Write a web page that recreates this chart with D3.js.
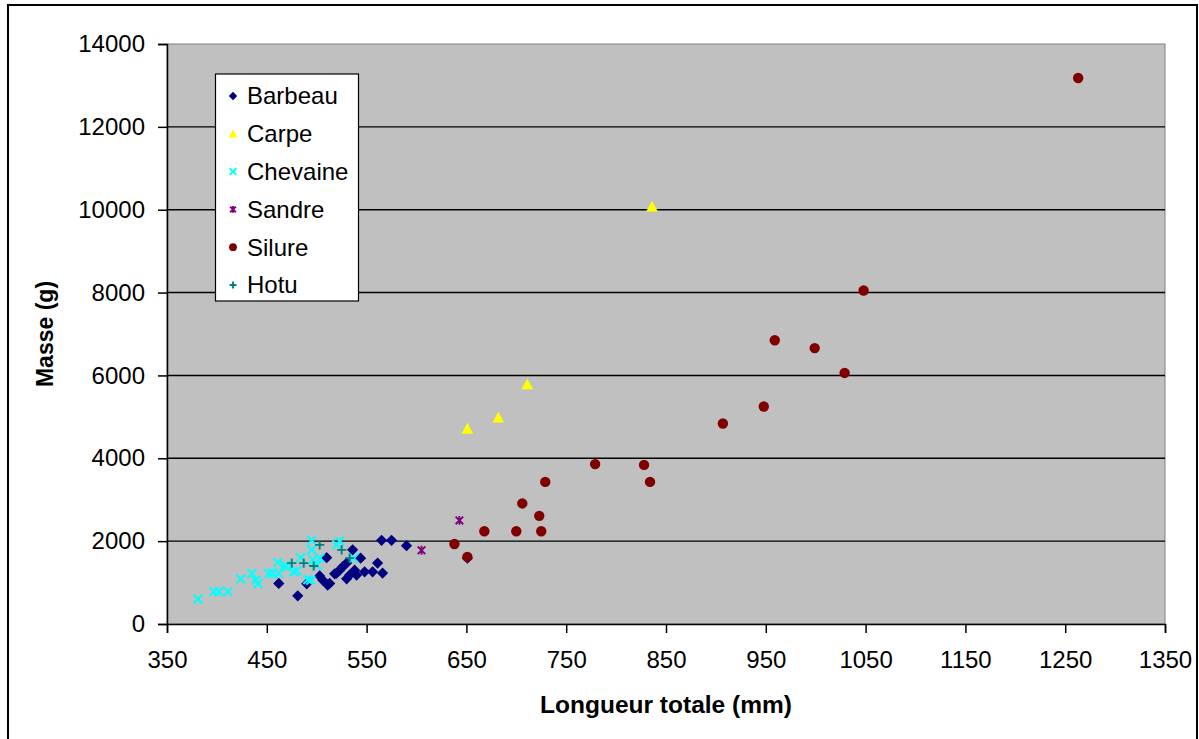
<!DOCTYPE html>
<html>
<head>
<meta charset="utf-8">
<script src="https://cdn.jsdelivr.net/npm/d3@7"></script>
<style>
  body { margin: 0; background: #fff; }
  svg { display: block; font-family: "Liberation Sans", Arial, sans-serif; }
</style>
</head>
<body>
<svg id="chart" width="1199" height="739"></svg>
<script>
// longueur totale (mm) / masse (g) par espèce
const barbeauX = [462, 481, 490, 503, 506, 510, 513, 520, 523, 526, 530, 518, 530, 533, 536, 538, 540, 544, 548, 556, 561, 566, 565, 575, 590, 651, 511];
const barbeauY = [980, 680, 970, 1160, 1060, 1600, 980, 1230, 1300, 1380, 1090, 1210, 1470, 1180, 1790, 1300, 1180, 1590, 1260, 1260, 1470, 1230, 2020, 2020, 1890, 1590, 940];

const carpeX = [651, 682, 711, 836];
const carpeY = [4710, 4980, 5780, 10070];

const chevaineX = [381, 397, 402, 411, 424, 435, 439, 441, 452, 456, 461, 462, 468, 470, 477, 480, 484, 491, 494, 495, 495, 496, 503, 500, 523, 520, 537];
const chevaineY = [600, 780, 780, 780, 1090, 1220, 1060, 970, 1220, 1220, 1480, 1220, 1410, 1380, 1260, 1290, 1600, 1070, 1060, 2020, 1790, 1550, 1590, 1420, 2000, 1910, 1590];

const sandreX = [605, 643];
const sandreY = [1780, 2500];

const silureX = [1263, 1048, 959, 999, 1029, 948, 907, 779, 828, 834, 729, 706, 723, 668, 700, 725, 638, 651];
const silureY = [13180, 8050, 6850, 6660, 6060, 5250, 4840, 3860, 3840, 3430, 3430, 2910, 2610, 2240, 2240, 2240, 1930, 1620];

const hotuX = [475, 487, 497, 503, 525, 533];
const hotuY = [1470, 1470, 1400, 1910, 1790, 1590];

const seriesNames = ["Barbeau", "Carpe", "Chevaine", "Sandre", "Silure", "Hotu"];
const xTicks = [350, 450, 550, 650, 750, 850, 950, 1050, 1150, 1250, 1350];
const yTicks = [0, 2000, 4000, 6000, 8000, 10000, 12000, 14000];

const svg = d3.select("#chart");

// cadre du graphique
svg.append("rect")
    .attr("x", 8).attr("y", 5)
    .attr("width", 1189).attr("height", 760)
    .attr("fill", "#fff")
    .attr("stroke", "#000")
    .attr("stroke-width", 2);

const x = d3.scaleLinear().domain([350, 1350]).range([167, 1165]);
const y = d3.scaleLinear().domain([0, 14000]).range([624, 44]);

// zone de traçage
svg.append("rect")
    .attr("x", x(350)).attr("y", y(14000))
    .attr("width", x(1350) - x(350)).attr("height", y(0) - y(14000))
    .attr("fill", "#c0c0c0")
    .attr("stroke", "#808080")
    .attr("stroke-width", 1);

svg.append("g")
    .selectAll("line")
    .data(yTicks.filter(d => d > 0 && d < 14000))
    .enter()
    .append("line")
    .attr("x1", x(350)).attr("x2", x(1350))
    .attr("y1", d => y(d)).attr("y2", d => y(d))
    .attr("stroke", "#000")
    .attr("stroke-width", 1.4);

const xAxis = svg.append("g")
    .attr("transform", `translate(0,${y(0)})`)
    .call(d3.axisBottom(x).tickValues(xTicks).tickSize(9).tickPadding(18).tickFormat(d3.format("d")));

const yAxis = svg.append("g")
    .attr("transform", `translate(${x(350)},0)`)
    .call(d3.axisLeft(y).tickValues(yTicks).tickSize(9).tickPadding(13).tickFormat(d3.format("d")));

[xAxis, yAxis].forEach(g => {
    g.selectAll("path.domain").attr("stroke", "#000").attr("stroke-width", 1.5);
    g.selectAll(".tick line").attr("stroke", "#000").attr("stroke-width", 1.5);
    g.selectAll(".tick text")
        .attr("fill", "#000")
        .style("font-size", "24px")
        .style("font-family", "'Liberation Sans', Arial, sans-serif");
});

svg.append("text")
    .attr("x", (x(350) + x(1350)) / 2)
    .attr("y", 713)
    .attr("text-anchor", "middle")
    .style("font-size", "24.5px")
    .style("font-weight", "bold")
    .text("Longueur totale (mm)");

svg.append("text")
    .attr("transform", `translate(53,${(y(0) + y(14000)) / 2}) rotate(-90)`)
    .attr("text-anchor", "middle")
    .style("font-size", "23px")
    .style("font-weight", "bold")
    .text("Masse (g)");

// formes des marqueurs
function drawMarker(g, shape, color, s) {
    if (shape === "diamond") {
        g.append("path").attr("d", `M0,${-5.6 * s}L${5.6 * s},0L0,${5.6 * s}L${-5.6 * s},0Z`).attr("fill", color);
    } else if (shape === "triangle") {
        g.append("path").attr("d", `M0,${-6 * s}L${5.8 * s},${4.8 * s}L${-5.8 * s},${4.8 * s}Z`).attr("fill", color);
    } else if (shape === "circle") {
        g.append("circle").attr("r", 5.2 * s).attr("fill", color);
    } else if (shape === "x") {
        const r = 4.4 * s;
        g.append("path").attr("d", `M${-r},${-r}L${r},${r}M${-r},${r}L${r},${-r}`)
            .attr("stroke", color).attr("stroke-width", 2).attr("fill", "none");
    } else if (shape === "star") {
        const r = 3.8 * s;
        g.append("path").attr("d", `M${-r},${-r}L${r},${r}M${-r},${r}L${r},${-r}M0,${-r - 0.6}L0,${r + 0.6}`)
            .attr("stroke", color).attr("stroke-width", 1.9).attr("fill", "none");
    } else if (shape === "plus") {
        const r = 4.6 * s;
        g.append("path").attr("d", `M${-r},0L${r},0M0,${-r}L0,${r}`)
            .attr("stroke", color).attr("stroke-width", 1.9).attr("fill", "none");
    }
}

const series = [
    { name: seriesNames[0], xs: barbeauX, ys: barbeauY, color: "#000080", shape: "diamond" },
    { name: seriesNames[1], xs: carpeX, ys: carpeY, color: "#ffff00", shape: "triangle" },
    { name: seriesNames[2], xs: chevaineX, ys: chevaineY, color: "#00ffff", shape: "x" },
    { name: seriesNames[3], xs: sandreX, ys: sandreY, color: "#800080", shape: "star" },
    { name: seriesNames[4], xs: silureX, ys: silureY, color: "#800000", shape: "circle" },
    { name: seriesNames[5], xs: hotuX, ys: hotuY, color: "#008080", shape: "plus" }
];

series.forEach(s => {
    const pts = s.xs.map((v, i) => ({ x: v, y: s.ys[i] }));
    svg.append("g")
        .selectAll("g")
        .data(pts)
        .enter()
        .append("g")
        .attr("transform", d => `translate(${x(d.x)},${y(d.y)})`)
        .each(function () { drawMarker(d3.select(this), s.shape, s.color, 1); });
});

// légende
const legend = svg.append("g");
legend.append("rect")
    .attr("x", 215.5).attr("y", 74)
    .attr("width", 143).attr("height", 227)
    .attr("fill", "#fff")
    .attr("stroke", "#000")
    .attr("stroke-width", 1.2);

series.forEach((s, i) => {
    const cy = 96 + i * 37.8;
    const item = legend.append("g").attr("transform", `translate(233,${cy})`);
    drawMarker(item, s.shape, s.color, 0.75);
    legend.append("text")
        .attr("x", 247)
        .attr("y", cy)
        .attr("dy", "0.35em")
        .style("font-size", "24px")
        .text(s.name);
});
</script>
</body>
</html>
